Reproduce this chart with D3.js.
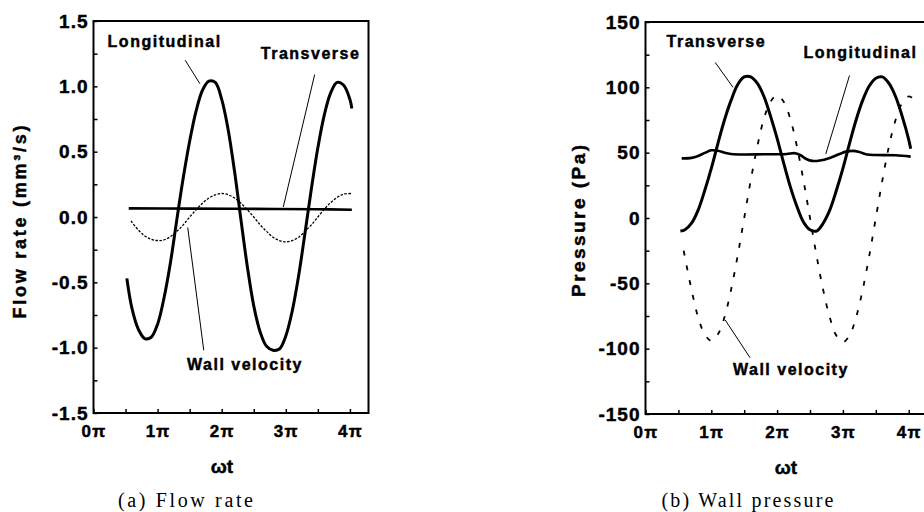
<!DOCTYPE html>
<html>
<head>
<meta charset="utf-8">
<script src="https://cdn.jsdelivr.net/npm/d3@7"></script>
<style>
  body { margin: 0; background: #fff; }
  svg { display: block; font-family: "Liberation Sans", Arial, sans-serif; }
</style>
</head>
<body>
<div id="chart"></div>
<script>
// Two panels: (a) flow rate, (b) wall pressure, against wt in units of pi

// ---- (a) Flow rate (mm^3/s) ----
var flowLongT = [0.52, 0.6, 0.7, 0.8, 0.9, 1.0, 1.1, 1.2, 1.3, 1.4, 1.5, 1.6, 1.7, 1.8, 1.9, 2.0, 2.1, 2.2, 2.3, 2.4,
                 2.5, 2.6, 2.7, 2.8, 2.9, 3.0, 3.1, 3.2, 3.3, 3.4, 3.5, 3.6, 3.7, 3.8, 3.9, 4.0, 4.03];
var flowLong = [-0.47, -0.70, -0.86, -0.93, -0.92, -0.82, -0.62, -0.35, -0.02, 0.30, 0.58, 0.81, 0.97, 1.04, 1.03, 0.90, 0.67, 0.35, -0.02, -0.38,
                -0.68, -0.88, -0.99, -1.02, -1.01, -0.91, -0.72, -0.45, -0.12, 0.22, 0.53, 0.78, 0.95, 1.03, 1.01, 0.90, 0.83];

var flowTransT = [0.55, 1.5, 2.5, 3.5, 4.03];
var flowTrans = [0.066, 0.064, 0.062, 0.059, 0.056];

var flowWallT = [0.585, 0.7, 0.8, 0.9, 1.0, 1.1, 1.2, 1.3, 1.4, 1.5, 1.6, 1.7, 1.8, 1.9, 2.0, 2.1, 2.2, 2.3, 2.4, 2.5,
                 2.6, 2.7, 2.8, 2.9, 3.0, 3.1, 3.2, 3.3, 3.4, 3.5, 3.6, 3.7, 3.8, 3.9, 4.02];
var flowWall = [-0.03, -0.10, -0.145, -0.17, -0.18, -0.175, -0.15, -0.11, -0.06, 0.0, 0.055, 0.105, 0.145, 0.17, 0.18, 0.17, 0.145, 0.105, 0.055, 0.0,
                -0.06, -0.11, -0.155, -0.18, -0.19, -0.18, -0.155, -0.11, -0.06, 0.0, 0.06, 0.11, 0.15, 0.175, 0.18];

// ---- (b) Wall pressure (Pa) ----
var presTransT = [0.53, 0.6, 0.7, 0.8, 0.9, 1.0, 1.1, 1.2, 1.3, 1.4, 1.5, 1.6, 1.7, 1.8, 1.9, 2.0, 2.1, 2.2, 2.3, 2.4,
                  2.5, 2.6, 2.7, 2.8, 2.9, 3.0, 3.1, 3.2, 3.3, 3.4, 3.5, 3.6, 3.7, 3.8, 3.9, 4.0, 4.03];
var presTrans = [-10, -9, -4, 6, 21, 38, 57, 75, 90, 102, 108, 108, 103, 93, 78, 61, 42, 24, 9, -3,
                 -9, -10, -4, 6, 21, 38, 57, 75, 90, 101, 107, 108, 103, 93, 78, 60, 53];

var presLongT = [0.55, 0.7, 0.8, 0.9, 1.0, 1.1, 1.2, 1.3, 1.5, 1.8, 2.0, 2.15, 2.27, 2.35, 2.45, 2.53, 2.65, 2.8, 2.95,
                 3.05, 3.15, 3.25, 3.35, 3.5, 3.8, 4.03];
var presLong = [45.6, 46.0, 47.5, 49.8, 51.8, 51.5, 50.0, 49.0, 48.6, 48.8, 48.8, 49.0, 49.6, 48.2, 45.0, 43.7, 44.0, 46.0, 49.0,
                50.8, 51.4, 50.5, 48.8, 48.2, 48.0, 47.0];

var presWallT = [0.58, 0.7, 0.8, 0.9, 1.0, 1.1, 1.2, 1.3, 1.4, 1.5, 1.6, 1.7, 1.8, 1.9, 2.0, 2.1, 2.2, 2.3, 2.4, 2.5,
                 2.6, 2.7, 2.8, 2.9, 3.0, 3.1, 3.2, 3.3, 3.4, 3.5, 3.6, 3.7, 3.8, 3.9, 4.0, 4.05];
var presWall = [-25, -55, -76, -89, -94, -89, -76, -55, -29, 0, 29, 55, 76, 89, 94, 89, 76, 55, 29, 0,
                -29, -55, -76, -90, -95, -90, -76, -55, -29, 0, 29, 55, 75, 88, 93, 92];

// ticks
var piTicks = [0, 0.5, 1, 1.5, 2, 2.5, 3, 3.5, 4];
var flowTicks = [-1.5, -1.25, -1, -0.75, -0.5, -0.25, 0, 0.25, 0.5, 0.75, 1, 1.25, 1.5];
var presTicks = [-150, -125, -100, -75, -50, -25, 0, 25, 50, 75, 100, 125, 150];

// labels with leader lines, in data units: text start, leader from, leader to
var flowNotes = [
  { text: "Longitudinal", tx: 0.22, ty: 1.30, x1: 1.43, y1: 1.20, x2: 1.66, y2: 1.02 },
  { text: "Transverse", tx: 2.61, ty: 1.21, x1: 3.45, y1: 1.09, x2: 2.96, y2: 0.076 },
  { text: "Wall velocity", tx: 1.46, ty: -1.17, x1: 1.72, y1: -1.02, x2: 1.47, y2: -0.08 }
];
var presNotes = [
  { text: "Transverse", tx: 0.32, ty: 131, x1: 1.06, y1: 119, x2: 1.33, y2: 100 },
  { text: "Longitudinal", tx: 2.40, ty: 122.7, x1: 3.10, y1: 109, x2: 2.74, y2: 49 },
  { text: "Wall velocity", tx: 1.33, ty: -120.4, x1: 1.59, y1: -107, x2: 1.21, y2: -78 }
];

var svg = d3.select("#chart").append("svg")
  .attr("width", 924)
  .attr("height", 512);

svg.append("rect").attr("width", 924).attr("height", 512).attr("fill", "#fff");

function zip(ts, vs) {
  return ts.map(function(t, i) { return [t, vs[i]]; });
}

// heavier look, like the scanned figure
function heavy(sel) {
  sel.attr("stroke", "#000").attr("stroke-width", 0.45).attr("paint-order", "stroke");
}

function drawPanel(p) {
  var x = d3.scaleLinear().domain([0, 4.29]).range(p.xRange);
  var y = d3.scaleLinear().domain(p.yDomain).range(p.yRange);
  var g = svg.append("g");

  // bottom axis, ticks pointing inward
  var xAxis = g.append("g")
    .attr("transform", "translate(0," + p.yRange[0] + ")")
    .call(d3.axisBottom(x)
      .tickValues(piTicks)
      .tickSizeInner(-4)
      .tickSizeOuter(0)
      .tickPadding(12)
      .tickFormat(function(d) { return Number.isInteger(d) ? d + "π" : ""; }));
  xAxis.select(".domain").remove();
  xAxis.selectAll("line").attr("stroke", "#000").attr("stroke-width", 1.5);
  xAxis.selectAll("text")
    .attr("fill", "#000")
    .attr("font-family", "'Liberation Sans', Arial, sans-serif")
    .attr("font-weight", "bold")
    .attr("font-size", 17)
    .attr("letter-spacing", 1.2)
    .call(heavy);

  // left axis
  var yAxis = g.append("g")
    .attr("transform", "translate(" + p.xRange[0] + ",0)")
    .call(d3.axisLeft(y)
      .tickValues(p.yTicks)
      .tickSizeInner(-4)
      .tickSizeOuter(0)
      .tickPadding(5)
      .tickFormat(p.yFormat));
  yAxis.select(".domain").remove();
  yAxis.selectAll("line").attr("stroke", "#000").attr("stroke-width", 1.5);
  yAxis.selectAll("text")
    .attr("fill", "#000")
    .attr("font-family", "'Liberation Sans', Arial, sans-serif")
    .attr("font-weight", "bold")
    .attr("font-size", 19)
    .attr("letter-spacing", 1)
    .call(heavy);

  // frame
  g.append("rect")
    .attr("x", x(0))
    .attr("y", p.yRange[1])
    .attr("width", x(4.29) - x(0))
    .attr("height", p.yRange[0] - p.yRange[1])
    .attr("fill", "none")
    .attr("stroke", "#000")
    .attr("stroke-width", 2);

  var line = d3.line()
    .x(function(d) { return x(d[0]); })
    .y(function(d) { return y(d[1]); })
    .curve(d3.curveCatmullRom);

  p.series.forEach(function(s) {
    g.append("path")
      .datum(zip(s.t, s.v))
      .attr("d", line)
      .attr("fill", "none")
      .attr("stroke", "#000")
      .attr("stroke-width", s.width)
      .attr("stroke-dasharray", s.dash || null)
      .attr("stroke-linejoin", "round");
  });

  // annotations
  p.notes.forEach(function(n) {
    g.append("line")
      .attr("x1", x(n.x1)).attr("y1", y(n.y1))
      .attr("x2", x(n.x2)).attr("y2", y(n.y2))
      .attr("stroke", "#000")
      .attr("stroke-width", 1);
    g.append("text")
      .attr("x", x(n.tx))
      .attr("y", y(n.ty))
      .attr("font-weight", "bold")
      .attr("font-size", 16)
      .attr("letter-spacing", 1.5)
      .call(heavy)
      .text(n.text);
  });

  // y title
  g.append("text")
    .attr("transform", "translate(" + p.yTitlePos[0] + "," + p.yTitlePos[1] + ") rotate(-90)")
    .attr("text-anchor", "middle")
    .attr("font-weight", "bold")
    .attr("font-size", p.yTitleSize)
    .attr("textLength", p.yTitleLen)
    .attr("lengthAdjust", "spacing")
    .call(heavy)
    .text(p.yTitle);

  // x title
  g.append("text")
    .attr("x", p.xTitleX)
    .attr("y", p.yRange[0] + 60)
    .attr("text-anchor", "middle")
    .attr("font-weight", "bold")
    .attr("font-size", 19)
    .call(heavy)
    .text("ωt");

  // caption
  g.append("text")
    .attr("x", p.capX)
    .attr("y", 507)
    .attr("text-anchor", "middle")
    .attr("font-family", "'Liberation Serif', 'Times New Roman', serif")
    .attr("font-size", 20)
    .attr("textLength", p.capLen)
    .attr("lengthAdjust", "spacing")
    .text(p.caption);
}

drawPanel({
  xRange: [93.5, 368.5],
  yDomain: [-1.5, 1.5],
  yRange: [413, 21],
  yTicks: flowTicks,
  yFormat: function(d) { return Math.abs(d * 2 - Math.round(d * 2)) < 1e-9 ? d.toFixed(1) : ""; },
  series: [
    { t: flowLongT, v: flowLong, width: 3 },
    { t: flowTransT, v: flowTrans, width: 2.6 },
    { t: flowWallT, v: flowWall, width: 1.3, dash: "2.5 1.5" }
  ],
  notes: flowNotes,
  yTitle: "Flow rate (mm³/s)",
  yTitlePos: [26, 222],
  yTitleSize: 18,
  yTitleLen: 193,
  xTitleX: 222,
  capX: 185.5,
  capLen: 135,
  caption: "(a) Flow rate"
});

drawPanel({
  xRange: [645.5, 927.8],
  yDomain: [-150, 150],
  yRange: [414, 22],
  yTicks: presTicks,
  yFormat: function(d) { return d % 50 === 0 ? String(d) : ""; },
  series: [
    { t: presTransT, v: presTrans, width: 3 },
    { t: presLongT, v: presLong, width: 2.6 },
    { t: presWallT, v: presWall, width: 1.8, dash: "5 10" }
  ],
  notes: presNotes,
  yTitle: "Pressure (Pa)",
  yTitlePos: [585, 221],
  yTitleSize: 19,
  yTitleLen: 152,
  xTitleX: 786,
  capX: 747.5,
  capLen: 172,
  caption: "(b) Wall pressure"
});
</script>
</body>
</html>
